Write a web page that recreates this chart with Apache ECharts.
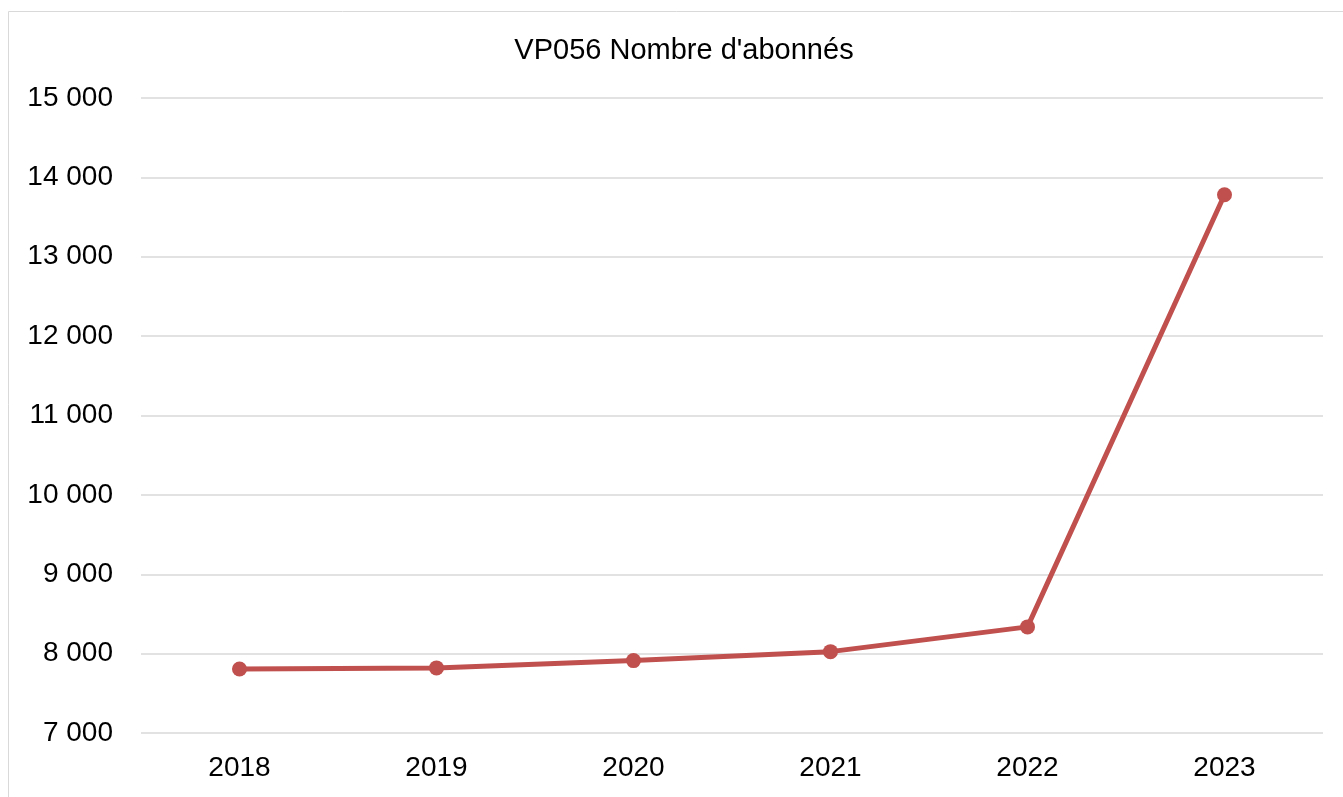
<!DOCTYPE html>
<html>
<head>
<meta charset="utf-8">
<script src="https://cdn.jsdelivr.net/npm/echarts@6/dist/echarts.min.js"></script>
<style>
html,body{margin:0;padding:0;background:#fff;}
#chart{width:1343px;height:797px;}
</style>
</head>
<body>
<div id="chart"></div>
<script>
var titleText = "VP056 Nombre d'abonnés";
var categories = ['2018', '2019', '2020', '2021', '2022', '2023'];
var subscribers = [7807, 7820, 7912, 8025, 8337, 13782];
var yMin = 7000, yMax = 15000, yStep = 1000;

function fmt(v) {
  return String(v).replace(/\B(?=(\d{3})+(?!\d))/g, ' ');
}

var chart = echarts.init(document.getElementById('chart'), null, {renderer: 'canvas'});
chart.setOption({
  animation: false,
  backgroundColor: '#ffffff',
  textStyle: {fontFamily: 'Liberation Sans, Arial, sans-serif'},
  graphic: [{
    type: 'rect',
    shape: {x: 8.5, y: 11.5, width: 1340, height: 800},
    style: {fill: 'none', stroke: '#d9d9d9', lineWidth: 1},
    silent: true
  }],
  title: {
    text: titleText,
    left: 679,
    textAlign: 'center',
    top: 31,
    textStyle: {fontSize: 29, fontWeight: 'normal', color: '#000', fontFamily: 'Liberation Sans, Arial, sans-serif'}
  },
  grid: {left: 141, right: 20, top: 98, bottom: 64, containLabel: false},
  xAxis: {
    type: 'category',
    data: categories,
    boundaryGap: true,
    axisLine: {show: false},
    axisTick: {show: false},
    axisLabel: {fontSize: 28, color: '#000', margin: 21, fontFamily: 'Liberation Sans, Arial, sans-serif'}
  },
  yAxis: {
    type: 'value',
    min: yMin, max: yMax, interval: yStep,
    axisLine: {show: false},
    axisTick: {show: false},
    splitLine: {lineStyle: {color: '#d9d9d9', width: 1.5}},
    axisLabel: {fontSize: 28, color: '#000', margin: 28, formatter: fmt, fontFamily: 'Liberation Sans, Arial, sans-serif'}
  },
  series: [{
    type: 'line',
    data: subscribers,
    symbol: 'circle',
    symbolSize: 15,
    lineStyle: {color: '#C0504D', width: 5},
    itemStyle: {color: '#C0504D'}
  }]
});
</script>
</body>
</html>
